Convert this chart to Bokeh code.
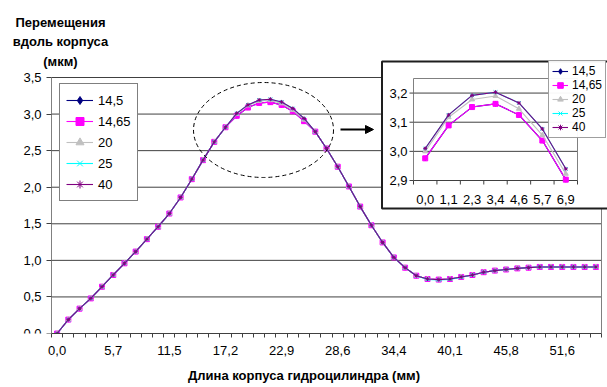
from bokeh.plotting import figure
from bokeh.models import (FixedTicker, CustomJSTickFormatter, Legend, LegendItem,
                          Label, Arrow, NormalHead, Range1d)
from bokeh.core.properties import value
from bokeh.embed import file_html
from bokeh.resources import INLINE

FONT = "Liberation Sans"

# ---------------- data ----------------
series_names = ["14,5", "14,65", "20", "25", "40"]
x_tick_labels = ["0,0", "5,7", "11,5", "17,2", "22,9", "28,6", "34,4", "40,1", "45,8", "51,6"]
inset_tick_labels = ["0,0", "1,1", "2,3", "3,4", "4,6", "5,7", "6,9"]

s_14_5 = [0.00, 0.19, 0.34, 0.48, 0.64, 0.80, 0.96, 1.12, 1.29, 1.46, 1.64, 1.86, 2.11, 2.37, 2.62, 2.82,
          2.976, 3.089, 3.152, 3.163, 3.125, 3.037, 2.903,
          2.76, 2.53, 2.28, 2.01, 1.735, 1.48, 1.245, 1.04, 0.90, 0.79, 0.745, 0.737, 0.745, 0.773, 0.80,
          0.838, 0.86, 0.875, 0.89, 0.90, 0.91, 0.91, 0.91, 0.91, 0.91, 0.91]
s_14_65 = [0.00, 0.19, 0.34, 0.48, 0.64, 0.80, 0.96, 1.12, 1.29, 1.46, 1.64, 1.86, 2.11, 2.37, 2.62, 2.82,
           2.976, 3.089, 3.152, 3.163, 3.125, 3.037, 2.903,
           2.76, 2.53, 2.28, 2.01, 1.735, 1.48, 1.245, 1.04, 0.90, 0.79, 0.745, 0.737, 0.745, 0.773, 0.80,
           0.838, 0.86, 0.875, 0.89, 0.90, 0.91, 0.91, 0.91, 0.91, 0.91, 0.91]
s_20 = [0.00, 0.19, 0.34, 0.48, 0.64, 0.80, 0.96, 1.12, 1.29, 1.46, 1.64, 1.86, 2.11, 2.37, 2.62, 2.82,
        3.000, 3.117, 3.178, 3.190, 3.146, 3.056, 2.923,
        2.76, 2.53, 2.28, 2.01, 1.735, 1.48, 1.245, 1.04, 0.90, 0.79, 0.745, 0.737, 0.745, 0.773, 0.80,
        0.838, 0.86, 0.875, 0.89, 0.90, 0.91, 0.91, 0.91, 0.91, 0.91, 0.91]
s_25 = [0.00, 0.19, 0.34, 0.48, 0.64, 0.80, 0.96, 1.12, 1.29, 1.46, 1.64, 1.86, 2.11, 2.37, 2.62, 2.82,
        3.010, 3.125, 3.192, 3.203, 3.166, 3.077, 2.940,
        2.76, 2.53, 2.28, 2.01, 1.735, 1.48, 1.245, 1.04, 0.90, 0.79, 0.74, 0.732, 0.74, 0.77, 0.80,
        0.838, 0.86, 0.875, 0.89, 0.90, 0.91, 0.91, 0.91, 0.91, 0.91, 0.91]
s_40 = [0.00, 0.19, 0.34, 0.48, 0.64, 0.80, 0.96, 1.12, 1.29, 1.46, 1.64, 1.86, 2.11, 2.37, 2.62, 2.82,
        3.010, 3.125, 3.192, 3.203, 3.166, 3.077, 2.940,
        2.76, 2.53, 2.28, 2.01, 1.735, 1.48, 1.245, 1.04, 0.90, 0.79, 0.745, 0.737, 0.745, 0.773, 0.80,
        0.838, 0.86, 0.875, 0.89, 0.90, 0.91, 0.91, 0.91, 0.91, 0.91, 0.91]
all_series = [s_14_5, s_14_65, s_20, s_25, s_40]

inset_start = 16     # first category shown in the zoomed inset
inset_count = 7

y_ticks = [0.0, 0.5, 1.0, 1.5, 2.0, 2.5, 3.0, 3.5]
y_max = 3.5
inset_y_ticks = [2.9, 3.0, 3.1, 3.2]
inset_y_min, inset_y_max = 2.9, 3.25

# ---------------- styles ----------------
colors = ["#000080", "#FF00FF", "#C0C0C0", "#00FFFF", "#800080"]
markers = ["diamond", "square", "triangle", "x", "asterisk"]
msizes = [5, 5, 5, 5, 4]
inset_msizes = [5, 5, 5, 5, 4]
GRID = "#404040"
AXIS_GRAY = "#808080"

n = len(s_14_5)
xs = list(range(n))
label_pos = list(range(0, n, 5))[:len(x_tick_labels)]

# ---------------- layout geometry (canvas pixels) ----------------
W, H = 607, 387
FRAME_L, FRAME_R, FRAME_T, FRAME_B = 0, 607, 0, 333
PLOT_L, PLOT_R = 51, 601      # main plot area left / right border
Y_TOP_PX = 77                 # pixel row of y = 3.5
IN_L, IN_R, IN_T, IN_B = 413, 577, 78, 180   # inset plot area

px_cat = (PLOT_R - PLOT_L) / n
px_unit = (FRAME_B - Y_TOP_PX) / y_max
ipx_cat = (IN_R - IN_L) / inset_count
ipx_unit = (IN_B - IN_T) / (inset_y_max - inset_y_min)


def mx(px):
    return -0.5 + (px - PLOT_L) / px_cat


def my(py):
    return (FRAME_B - py) / px_unit


def ix(px):
    return -0.5 + (px - IN_L) / ipx_cat


def iy(py):
    return inset_y_min + (IN_B - py) / ipx_unit


p = figure(width=W, height=H, output_backend="svg", toolbar_location=None,
           x_range=Range1d(mx(FRAME_L), mx(FRAME_R)), y_range=Range1d(my(FRAME_B), my(FRAME_T)),
           min_border_left=0, min_border_right=0, min_border_top=0,
           min_border_bottom=H - FRAME_B)
p.extra_x_ranges = {"ix": Range1d(ix(FRAME_L), ix(FRAME_R))}
p.extra_y_ranges = {"iy": Range1d(iy(FRAME_B), iy(FRAME_T))}
p.background_fill_color = "white"
p.border_fill_color = "white"
p.outline_line_color = None
p.xgrid.visible = False
p.ygrid.visible = False

comma_fmt = CustomJSTickFormatter(code="return tick.toFixed(1).replace('.', ',');")

# y axis (drawn at the left edge of the plot area)
p.yaxis.fixed_location = -0.5
p.yaxis.ticker = FixedTicker(ticks=y_ticks)
p.yaxis.bounds = (0, y_max)
p.yaxis.formatter = comma_fmt
p.yaxis.axis_line_color = AXIS_GRAY
p.yaxis.major_tick_line_color = GRID
p.yaxis.major_tick_out = 5
p.yaxis.major_tick_in = 0
p.yaxis.minor_tick_line_color = None
p.yaxis.major_label_standoff = 5
p.yaxis.major_label_text_font = FONT
p.yaxis.major_label_text_font_size = "13px"
p.yaxis.major_label_text_color = "black"

# x axis
p.xaxis.ticker = FixedTicker(ticks=label_pos, minor_ticks=[i - 0.5 for i in range(n + 1)])
p.xaxis.bounds = (-0.5, n - 0.5)
p.xaxis.major_label_overrides = dict(zip(label_pos, x_tick_labels))
p.xaxis.axis_line_color = GRID
p.xaxis.major_tick_line_color = None
p.xaxis.major_tick_out = 4
p.xaxis.major_tick_in = 0
p.xaxis.minor_tick_line_color = GRID
p.xaxis.minor_tick_out = 4
p.xaxis.minor_tick_in = 0
p.xaxis.major_label_standoff = 8
p.xaxis.major_label_text_font = FONT
p.xaxis.major_label_text_font_size = "13px"
p.xaxis.major_label_text_color = "black"
p.xaxis.axis_label = "Длина корпуса гидроцилиндра (мм)"
p.xaxis.axis_label_text_font = FONT
p.xaxis.axis_label_text_font_size = "13px"
p.xaxis.axis_label_text_font_style = "bold"
p.xaxis.axis_label_text_color = "black"
p.xaxis.axis_label_standoff = 10

# horizontal grid lines and plot-area right border
gy = [t for t in y_ticks if t > 0]
p.segment(x0=[-0.5] * len(gy), y0=gy, x1=[n - 0.5] * len(gy), y1=gy, line_color=GRID, line_width=1)
p.segment(x0=[n - 0.5], y0=[0], x1=[n - 0.5], y1=[y_max], line_color=AXIS_GRAY, line_width=1)

items = []
for name, ys, c, m, s in zip(series_names, all_series, colors, markers, msizes):
    lr = p.line(xs, ys, line_color=c, line_width=1.1)
    sr = p.scatter(xs, ys, marker=m, size=s, line_color=c, fill_color=c, line_width=1)
    items.append(LegendItem(label=name, renderers=[lr, sr]))

legend = Legend(items=items, location=(59 - FRAME_L, FRAME_B - 201))
legend.border_line_color = "black"
legend.border_line_width = 1
legend.background_fill_color = "white"
legend.background_fill_alpha = 1
legend.label_text_font = FONT
legend.label_text_font_size = "13px"
legend.label_text_color = "black"
legend.glyph_width = 27
legend.glyph_height = 20
legend.label_height = 20
legend.spacing = 1
legend.padding = 6
legend.margin = 0
legend.label_standoff = 5
p.add_layout(legend)

# dashed ellipse around the peak and arrow to the inset
p.ellipse(x=[mx(263)], y=[my(129.5)], width=140, height=95, width_units="screen",
          height_units="screen", fill_color=None, line_color="black", line_dash="4 3", line_width=1)
p.add_layout(Arrow(end=NormalHead(size=8, fill_color="black", line_color="black"),
                   x_start=mx(340), y_start=my(129), x_end=mx(373), y_end=my(129),
                   line_width=2, line_color="black"))

# y axis title (horizontal, top left)
p.add_layout(Label(x=mx(60), y=my(14), text="Перемещения\nвдоль корпуса\n(мкм)",
                   text_align="center", text_baseline="top", text_font=FONT,
                   text_font_size="13px", text_font_style="bold", text_color="black",
                   text_line_height=1.3))

# ---------------- inset (zoom of the peak) ----------------
R = dict(x_range_name="ix", y_range_name="iy")
p.quad(left=[ix(381.5)], right=[ix(625)], top=[iy(61)], bottom=[iy(208)],
       fill_color="white", line_color="#1e1e1e", line_width=2, **R)
p.segment(x0=[-0.5] * 3, y0=inset_y_ticks[1:], x1=[inset_count - 0.5] * 3, y1=inset_y_ticks[1:],
          line_color=GRID, line_width=1, **R)
# plot-area outline (top, right) and axes
p.segment(x0=[-0.5, inset_count - 0.5], y0=[inset_y_max, inset_y_min],
          x1=[inset_count - 0.5, inset_count - 0.5], y1=[inset_y_max, inset_y_max],
          line_color=AXIS_GRAY, line_width=1, **R)
p.segment(x0=[-0.5], y0=[inset_y_min], x1=[-0.5], y1=[inset_y_max], line_color=AXIS_GRAY, **R)
p.segment(x0=[-0.5], y0=[inset_y_min], x1=[inset_count - 0.5], y1=[inset_y_min], line_color=GRID, **R)
tick_dx = 4 / ipx_cat
tick_dy = 4 / ipx_unit
p.segment(x0=[-0.5 - tick_dx] * 4, y0=inset_y_ticks, x1=[-0.5] * 4, y1=inset_y_ticks,
          line_color=GRID, **R)
bnd = [i - 0.5 for i in range(inset_count + 1)]
p.segment(x0=bnd, y0=[inset_y_min] * len(bnd), x1=bnd, y1=[inset_y_min - tick_dy] * len(bnd),
          line_color=GRID, **R)

ix_pts = list(range(inset_count))
iitems = []
for name, ys, c, m, s in zip(series_names, all_series, colors, markers, inset_msizes):
    yy = ys[inset_start:inset_start + inset_count]
    lr = p.line(ix_pts, yy, line_color=c, line_width=1.1, **R)
    sr = p.scatter(ix_pts, yy, marker=m, size=s, line_color=c, fill_color=c, line_width=1, **R)
    iitems.append(LegendItem(label=name, renderers=[lr, sr]))

p.text(x=[-0.5] * 4, y=inset_y_ticks, text=[f"{t:.1f}".replace(".", ",") for t in inset_y_ticks],
       x_offset=-6, text_align="right", text_baseline="middle", text_font=value(FONT),
       text_font_size=value("13px"), text_color="black", **R)
p.text(x=ix_pts, y=[inset_y_min] * inset_count, text=inset_tick_labels, y_offset=19,
       text_align="center", text_baseline="middle", text_font=value(FONT),
       text_font_size=value("13px"), text_color="black", **R)

ileg = Legend(items=iitems, location=(548 - FRAME_L, FRAME_B - 138))
ileg.border_line_color = GRID
ileg.background_fill_color = "white"
ileg.label_text_font = FONT
ileg.label_text_font_size = "12px"
ileg.label_text_color = "black"
ileg.glyph_width = 16
ileg.glyph_height = 14
ileg.label_height = 14
ileg.spacing = 0
ileg.padding = 3
ileg.margin = 0
ileg.label_standoff = 4
p.add_layout(ileg)

open("out.html", "w").write(file_html(p, INLINE))
